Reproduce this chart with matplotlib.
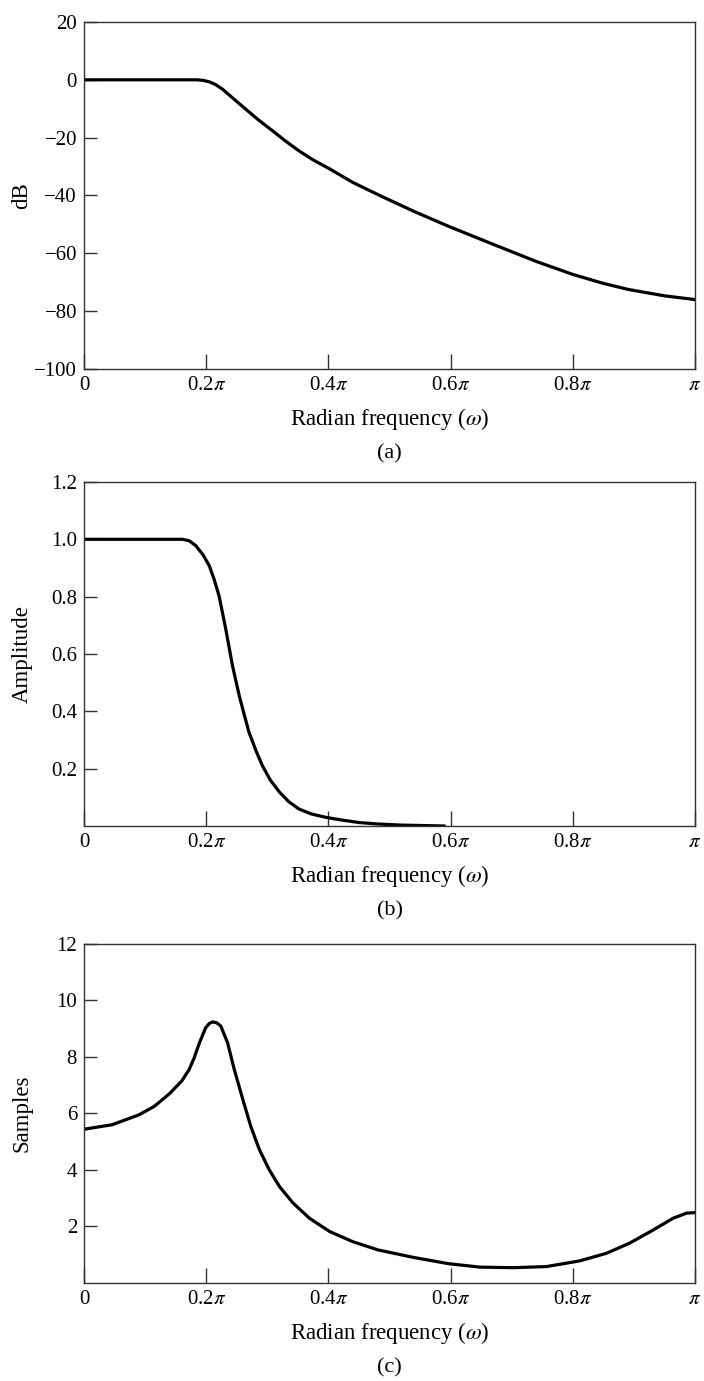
import matplotlib
matplotlib.use('Agg')
import matplotlib.pyplot as plt
import numpy as np

plt.rcParams['font.family'] = ['Liberation Serif', 'DejaVu Serif']
plt.rcParams['mathtext.fontset'] = 'stix'

# frequencies are given as fractions of pi
tick_fracs = [0, 0.2, 0.4, 0.6, 0.8, 1.0]
tick_labels = ['0', r'0.2$\pi$', r'0.4$\pi$', r'0.6$\pi$', r'0.8$\pi$', r'$\pi$']

# (a) magnitude in dB
a_w = [0, 0.05, 0.10, 0.15, 0.185, 0.195, 0.205, 0.215, 0.227, 0.245, 0.265, 0.285,
       0.309, 0.33, 0.352, 0.375, 0.402, 0.44, 0.487, 0.54, 0.597, 0.671, 0.74,
       0.80, 0.85, 0.891, 0.95, 1.0]
a_db = [0, 0, 0, 0, 0, -0.2, -0.7, -1.6, -3.3, -6.6, -10.2, -13.8,
        -17.7, -21.2, -24.6, -27.7, -30.8, -35.5, -40.3, -45.5, -50.7, -57.0, -62.8,
        -67.3, -70.4, -72.5, -74.7, -76.0]

# (b) linear amplitude
b_w = [0, 0.05, 0.10, 0.15, 0.161, 0.172, 0.183, 0.195, 0.205, 0.213, 0.221, 0.232,
       0.243, 0.254, 0.262, 0.270, 0.281, 0.292, 0.305, 0.320, 0.335, 0.352, 0.372,
       0.396, 0.421, 0.45, 0.48, 0.52, 0.59]
b_amp = [1, 1, 1, 1, 1.0, 0.995, 0.978, 0.945, 0.908, 0.86, 0.803, 0.687,
         0.559, 0.455, 0.39, 0.327, 0.265, 0.210, 0.16, 0.118, 0.085, 0.059, 0.042,
         0.030, 0.021, 0.012, 0.007, 0.003, 0.0]

# (c) group delay in samples
c_w = [0, 0.046, 0.090, 0.115, 0.140, 0.160, 0.172, 0.180, 0.189, 0.199, 0.205, 0.210,
       0.217, 0.224, 0.235, 0.246, 0.260, 0.273, 0.287, 0.303, 0.320, 0.342, 0.369,
       0.402, 0.440, 0.481, 0.54, 0.597, 0.648, 0.702, 0.757, 0.811, 0.855, 0.893,
       0.932, 0.964, 0.986, 1.0]
c_samp = [5.44, 5.60, 5.95, 6.25, 6.70, 7.15, 7.55, 7.95, 8.5, 9.03, 9.18, 9.24,
          9.21, 9.09, 8.5, 7.55, 6.49, 5.54, 4.72, 4.01, 3.41, 2.83, 2.29,
          1.82, 1.46, 1.17, 0.9, 0.68, 0.56, 0.54, 0.58, 0.78, 1.05, 1.41,
          1.88, 2.29, 2.47, 2.49]

fig = plt.figure(figsize=(7.04, 13.81), dpi=100)

panels = [
    ([0.1193, 0.7328, 0.868, 0.2513], a_w, a_db, (-100, 20),
     [-100, -80, -60, -40, -20, 0, 20],
     ['\u2212100', '\u221280', '\u221260', '\u221240', '\u221220', '0', '20'], 'dB', '(a)'),
    ([0.1193, 0.4019, 0.868, 0.2491], b_w, b_amp, (0, 1.2),
     [0.2, 0.4, 0.6, 0.8, 1.0, 1.2],
     ['0.2', '0.4', '0.6', '0.8', '1.0', '1.2'], 'Amplitude', '(b)'),
    ([0.1193, 0.0710, 0.868, 0.2455], c_w, c_samp, (0, 12),
     [2, 4, 6, 8, 10, 12],
     ['2', '4', '6', '8', '10', '12'], 'Samples', '(c)'),
]

px = 0.72  # points per pixel at 100 dpi

for rect, w, vals, ylim, yt, ytl, ylab, tag in panels:
    ax = fig.add_axes(rect)
    ax.plot(np.array(w) * np.pi, vals, color='black', lw=2.3,
            solid_joinstyle='round', solid_capstyle='round')
    ax.set_xlim(0, np.pi)
    ax.set_ylim(*ylim)
    ax.set_xticks(np.array(tick_fracs) * np.pi)
    ax.set_xticklabels(tick_labels)
    ax.set_yticks(yt)
    ax.set_yticklabels(ytl)
    ax.tick_params(axis='both', direction='in', labelsize=15, width=1.0, color='#333333')
    ax.tick_params(axis='x', length=11, pad=5)
    ax.tick_params(axis='y', length=9, pad=5)
    for s in ax.spines.values():
        s.set_linewidth(1.0)
        s.set_color('#333333')
    ax.annotate(r'Radian frequency ($\omega$)', xy=(0.5, 0), xycoords='axes fraction',
                xytext=(0, -50 * px), textcoords='offset points',
                ha='center', va='center', fontsize=16.5)
    ax.annotate(tag, xy=(0.5, 0), xycoords='axes fraction',
                xytext=(0, -85 * px), textcoords='offset points',
                ha='center', va='center', fontsize=16)
    ax.annotate(ylab, xy=(0, 0.5), xycoords='axes fraction',
                xytext=(-62 * px, 0), textcoords='offset points',
                ha='center', va='center', rotation=90, fontsize=16.5)

plt.savefig('out.png', dpi=100)
plt.close()
